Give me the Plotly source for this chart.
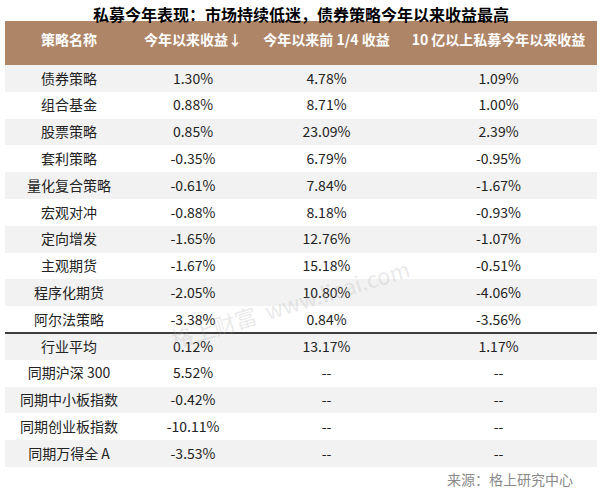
import plotly.graph_objects as go

title = "私募今年表现：市场持续低迷，债券策略今年以来收益最高"
headers = ["策略名称", "今年以来收益↓", "今年以来前 1/4 收益", "10 亿以上私募今年以来收益"]

strategies = ["债券策略", "组合基金", "股票策略", "套利策略", "量化复合策略",
              "宏观对冲", "定向增发", "主观期货", "程序化期货", "阿尔法策略",
              "行业平均", "同期沪深 300", "同期中小板指数", "同期创业板指数", "同期万得全 A"]
ytd_return = [1.30, 0.88, 0.85, -0.35, -0.61, -0.88, -1.65, -1.67, -2.05, -3.38,
              0.12, 5.52, -0.42, -10.11, -3.53]
top_quarter_return = [4.78, 8.71, 23.09, 6.79, 7.84, 8.18, 12.76, 15.18, 10.80, 0.84,
                      13.17, None, None, None, None]
large_fund_return = [1.09, 1.00, 2.39, -0.95, -1.67, -0.93, -1.07, -0.51, -4.06, -3.56,
                     1.17, None, None, None, None]
source = "来源：格上研究中心"
watermark = "格上财富  www.licai.com"

W, H = 605, 494
HEADER_TOP, HEADER_H, ROW_H = 21, 44, 26.8
LEFT, RIGHT = 5, 597


def fmt(vals):
    return ["--" if v is None else f"{v:.2f}%" for v in vals]


def py(px):
    return 1 - px / H


n = len(strategies)
row_colors = ["#F2F2F2" if i % 2 == 0 else "#FFFFFF" for i in range(n)]
font = "Noto Sans CJK SC"

fig = go.Figure()
fig.add_trace(go.Table(
    domain=dict(x=[LEFT / W, RIGHT / W], y=[py(HEADER_TOP + HEADER_H + n * ROW_H + 4), py(HEADER_TOP)]),
    columnwidth=[128, 120, 147, 197],
    header=dict(
        values=[f"<b>{h}</b>" for h in headers],
        fill_color="#AF8568",
        line=dict(color="#AF8568", width=0),
        align="center",
        height=HEADER_H,
        font=dict(family=font, size=14, color="white"),
    ),
    cells=dict(
        values=[strategies, fmt(ytd_return), fmt(top_quarter_return), fmt(large_fund_return)],
        fill_color=[row_colors] * 4,
        line=dict(color="rgba(0,0,0,0)", width=0),
        align="center",
        height=ROW_H,
        font=dict(family=font, size=14, color="#222222"),
    ),
))

# separator between strategies and the benchmark rows
sep_y = HEADER_TOP + HEADER_H + 10 * ROW_H
fig.add_shape(type="line", xref="paper", yref="paper",
              x0=LEFT / W, x1=RIGHT / W, y0=py(sep_y), y1=py(sep_y),
              line=dict(color="black", width=1.5))

fig.add_annotation(text=f"<b>{title}</b>", xref="paper", yref="paper",
                   x=301 / W, y=py(14), yanchor="middle", showarrow=False,
                   font=dict(family=font, size=16, color="black"))
fig.add_annotation(text=source, xref="paper", yref="paper",
                   x=575 / W, y=py(479), xanchor="right", yanchor="middle", showarrow=False,
                   font=dict(family=font, size=14, color="#8A8A8A"))
# faint watermark
fig.add_annotation(text=watermark, xref="paper", yref="paper",
                   x=290 / W, y=py(303), textangle=-17, showarrow=False,
                   font=dict(family=font, size=22, color="rgba(170,170,170,0.25)"))

fig.update_layout(
    width=W, height=H,
    margin=dict(l=0, r=0, t=0, b=0),
    paper_bgcolor="white",
    plot_bgcolor="white",
    showlegend=False,
)

fig.write_html("out.html", config={"displayModeBar": False},
               post_script="document.body.style.margin='0';")
